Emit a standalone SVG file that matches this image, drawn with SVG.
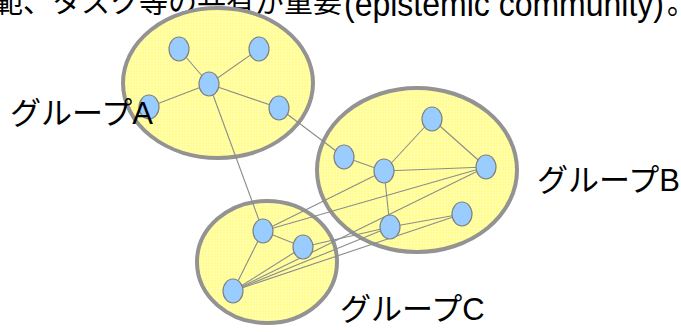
<svg xmlns="http://www.w3.org/2000/svg" width="681" height="332" viewBox="0 0 681 332">
<defs>
<pattern id="dots" width="3" height="3" patternUnits="userSpaceOnUse">
<rect width="3" height="3" fill="#ffff94"/>
<rect x="0" y="0" width="1" height="1" fill="#ffffe0"/>
<rect x="1.5" y="1.5" width="1" height="1" fill="#fff5a8"/>
</pattern>
<style>
.grp{fill:url(#dots);stroke:#939393;stroke-width:4}
.nd{fill:#99ccff;stroke:#808080;stroke-width:1.2}
.ln{stroke:#8c8c8c;stroke-width:1.1;fill:none}
.lbl{font-family:"Liberation Sans","Noto Sans CJK JP",sans-serif;font-size:31px;fill:#000}
.top{font-family:"Liberation Sans","Noto Sans CJK JP",sans-serif;fill:#000}
</style>
</defs>
<rect width="681" height="332" fill="#fff"/>
<text class="top" x="-6" y="13" font-size="29">範、タスク等の共有が重要</text>
<text class="top" x="344" y="16" font-size="35" textLength="320" lengthAdjust="spacingAndGlyphs">(epistemic community)</text>
<text class="top" x="667" y="14" font-size="28">。</text>
<g id="groupA"><ellipse class="grp" cx="218" cy="83" rx="95" ry="75"/></g>
<g id="groupB"><ellipse class="grp" cx="417" cy="170" rx="100" ry="82"/></g>
<g id="groupC"><ellipse class="grp" cx="267" cy="262" rx="70" ry="61"/></g>
<g id="connectors">
<line class="ln" x1="209" y1="84" x2="179" y2="49"/>
<line class="ln" x1="209" y1="84" x2="259" y2="49"/>
<line class="ln" x1="209" y1="84" x2="149" y2="107"/>
<line class="ln" x1="209" y1="84" x2="279" y2="108"/>
<line class="ln" x1="209" y1="84" x2="263" y2="231"/>
<line class="ln" x1="279" y1="108" x2="344" y2="157"/>
<line class="ln" x1="432" y1="119" x2="384" y2="171"/>
<line class="ln" x1="432" y1="119" x2="486" y2="167"/>
<line class="ln" x1="344" y1="157" x2="384" y2="171"/>
<line class="ln" x1="384" y1="171" x2="486" y2="167"/>
<line class="ln" x1="384" y1="171" x2="390" y2="227"/>
<line class="ln" x1="390" y1="227" x2="462" y2="214"/>
<line class="ln" x1="263" y1="231" x2="384" y2="171"/>
<line class="ln" x1="263" y1="231" x2="486" y2="167"/>
<line class="ln" x1="263" y1="231" x2="303" y2="247"/>
<line class="ln" x1="263" y1="231" x2="233" y2="291"/>
<line class="ln" x1="303" y1="247" x2="390" y2="227"/>
<line class="ln" x1="233" y1="291" x2="303" y2="247"/>
<line class="ln" x1="233" y1="291" x2="390" y2="227"/>
<line class="ln" x1="233" y1="291" x2="462" y2="214"/>
<line class="ln" x1="233" y1="291" x2="486" y2="167"/>
</g>
<g id="nodeA1"><ellipse class="nd" cx="179" cy="49" rx="10" ry="12"/></g>
<g id="nodeA2"><ellipse class="nd" cx="259" cy="49" rx="10" ry="12"/></g>
<g id="nodeA3"><ellipse class="nd" cx="209" cy="84" rx="10" ry="12"/></g>
<g id="nodeA4"><ellipse class="nd" cx="149" cy="107" rx="10" ry="12"/></g>
<g id="nodeA5"><ellipse class="nd" cx="279" cy="108" rx="10" ry="12"/></g>
<g id="nodeB1"><ellipse class="nd" cx="432" cy="119" rx="10" ry="12"/></g>
<g id="nodeB2"><ellipse class="nd" cx="344" cy="157" rx="10" ry="12"/></g>
<g id="nodeB3"><ellipse class="nd" cx="384" cy="171" rx="10" ry="12"/></g>
<g id="nodeB4"><ellipse class="nd" cx="486" cy="167" rx="10" ry="12"/></g>
<g id="nodeB5"><ellipse class="nd" cx="462" cy="214" rx="10" ry="12"/></g>
<g id="nodeB6"><ellipse class="nd" cx="390" cy="227" rx="10" ry="12"/></g>
<g id="nodeC1"><ellipse class="nd" cx="263" cy="231" rx="10" ry="12"/></g>
<g id="nodeC2"><ellipse class="nd" cx="303" cy="247" rx="10" ry="12"/></g>
<g id="nodeC3"><ellipse class="nd" cx="233" cy="291" rx="10" ry="12"/></g>
<text class="lbl" x="10" y="124">グループA</text>
<text class="lbl" x="537" y="191">グループB</text>
<text class="lbl" x="340" y="320">グループC</text>
</svg>
